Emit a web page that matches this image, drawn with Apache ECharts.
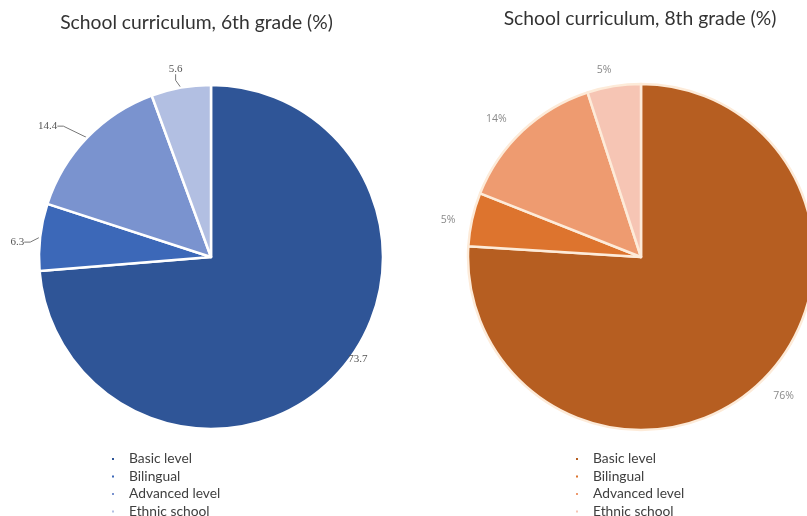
<!DOCTYPE html>
<html><head><meta charset="utf-8">
<script src="https://cdn.jsdelivr.net/npm/echarts@6/dist/echarts.min.js"></script>
<style>html,body{margin:0;padding:0;background:#fff}#c{width:807px;height:516px}</style>
</head><body><div id="c"></div>
<script>
const categories = ['Basic level', 'Bilingual', 'Advanced level', 'Ethnic school'];
const grade6Values = [73.7, 6.3, 14.4, 5.6];
const grade8Values = [76, 5, 14, 5];
const grade6Labels = ['73.7', '6.3', '14.4', '5.6'];
const grade8Labels = ['76%', '5%', '14%', '5%'];
const blueColors = ['#2f5597', '#3c68b8', '#7a93cf', '#b2bfe2'];
const orangeColors = ['#b65e21', '#dd742e', '#ee9b70', '#f6c5b4'];

const chart = echarts.init(document.getElementById('c'));
function pieData(vals, labels, colors, hideFirstLine) {
  return categories.map((n, i) => {
    const d = { name: n, value: vals[i], labelText: labels[i], itemStyle: { color: colors[i] } };
    if (hideFirstLine && i === 0) d.labelLine = { show: false };
    return d;
  });
}
function legendData(colors) {
  return categories.map((n, i) => ({ name: n, itemStyle: { color: colors[i] } }));
}
const legendCommon = {
  orient: 'vertical', icon: 'rect', itemWidth: 4, itemHeight: 4, itemGap: 3.5, height: 120,
  selectedMode: false,
  textStyle: { fontFamily: 'Lato', fontSize: 13.8, color: '#404040', lineHeight: 14, padding: [0, 0, 0, 9] }
};
// small label nudges (offsets from the library's own label layout)
const g6Nudge = [[-6, -20], [3, 6], [-13, -6], [14, -11]];
const g8Nudge = [[-4, 6], [4, 3], [2, -5], [10, -6]];
chart.setOption({
  animation: false,
  title: [
    { text: 'School curriculum, 6th grade (%)', left: 191.5, top: 8, textAlign: 'center',
      textStyle: { fontFamily: 'Lato', fontWeight: 'normal', fontSize: 19.3, color: '#333' } },
    { text: 'School curriculum, 8th grade (%)', left: 635, top: 4, textAlign: 'center',
      textStyle: { fontFamily: 'Lato', fontWeight: 'normal', fontSize: 19.3, color: '#333' } }
  ],
  legend: [
    Object.assign({ left: 105, top: 447, data: legendData(blueColors) }, legendCommon),
    Object.assign({ left: 569, top: 447, data: legendData(orangeColors) }, legendCommon)
  ],
  series: [
    {
      type: 'pie', center: [211, 257], radius: 172, startAngle: 90, clockwise: true,
      itemStyle: { borderColor: '#ffffff', borderWidth: 2.5 },
      label: { show: true, position: 'outside', overflow: 'none', fontFamily: 'Liberation Serif', fontSize: 11, color: '#555',
        formatter: p => p.data.labelText },
      labelLine: { show: true, length: 8, length2: 6, lineStyle: { color: '#777', width: 1 } },
      labelLayout: p => ({
        x: p.labelRect.x + g6Nudge[p.dataIndex][0],
        y: p.labelRect.y + g6Nudge[p.dataIndex][1],
        align: 'left', verticalAlign: 'top'
      }),
      data: pieData(grade6Values, grade6Labels, blueColors, true)
    },
    {
      type: 'pie', center: [641, 257], radius: 173, startAngle: 90, clockwise: true,
      itemStyle: { borderColor: '#fdebd9', borderWidth: 2.5 },
      label: { show: true, position: 'outside', overflow: 'none', fontFamily: 'Open Sans', fontSize: 10.5, color: '#8a8a8a',
        formatter: p => p.data.labelText },
      labelLine: { show: false, length: 10, length2: 6 },
      labelLayout: p => ({ dx: g8Nudge[p.dataIndex][0], dy: g8Nudge[p.dataIndex][1] }),
      data: pieData(grade8Values, grade8Labels, orangeColors, false)
    }
  ]
});
</script></body></html>
